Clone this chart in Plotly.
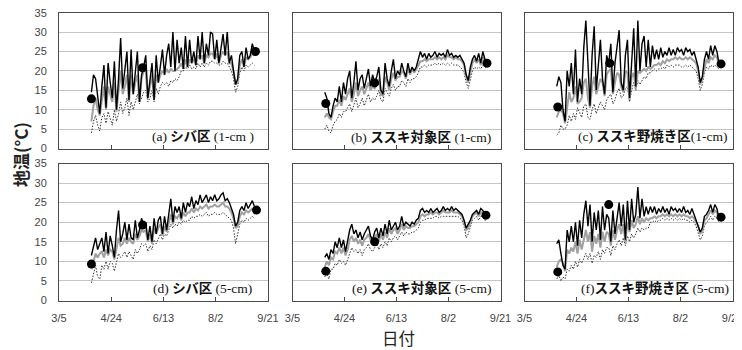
import plotly.graph_objects as go
import pandas as pd

# ---- data (every 2nd day from 4/5) ----
DATES = pd.date_range("2013-04-05", periods=79, freq="2D")

TICK_DATES = ["2013-03-05", "2013-04-24", "2013-06-13", "2013-08-02", "2013-09-21"]
TICK_LABELS = ["3/5", "4/24", "6/13", "8/2", "9/21"]
Y_TICKS = [0, 5, 10, 15, 20, 25, 30, 35]

# (a) シバ区 1-cm
A_BLACK = [14.5, 19, 18, 13, 9, 16, 21.5, 10.5, 22, 17,
           13, 22.5, 10, 18, 28.5, 15.5, 21, 25, 12.5, 25.5,
           14, 20, 25, 12, 19, 21, 24, 13, 17, 22,
           12.5, 24, 17, 21, 25.5, 19, 24, 27, 21, 30,
           20, 28, 22, 26, 20.5, 29, 21, 28, 22, 25,
           21.5, 29, 23, 30, 22, 27, 24, 30, 29.5, 23,
           28, 22, 26, 29.5, 24, 30, 22, 24, 20, 16.5,
           18, 24, 25, 21, 26, 23, 24, 27, 25]
A_GRAY = [7, 11, 13, 10, 8.5, 13, 16, 10, 16, 14,
          12, 17, 9.5, 15, 20, 14, 16, 19, 12, 19,
          14, 17, 19, 12, 18, 20, 20, 13, 16, 19,
          12.5, 19, 17, 19, 20, 19, 20.5, 19.5, 20.5, 20,
          20, 20.5, 21, 22, 20.5, 23, 21, 23, 22, 23,
          21.5, 24, 23, 24, 22, 24, 23.5, 24.5, 24.5, 23,
          24.5, 22, 24, 25, 24, 25, 22, 22, 20, 16.5,
          17, 21.5, 23, 21, 23.5, 23, 23.5, 24.5, 24]
A_DOT = [4, 7, 8.5, 6, 4.5, 8, 9, 6.5, 9.5, 8,
         6, 10, 7, 9, 12, 9, 10.5, 13, 8.5, 12,
         10, 12, 14, 11.5, 13, 14.5, 15, 12, 13, 15,
         12, 15.5, 14, 16, 17, 16.5, 17, 16, 17.5, 17,
         18, 17.5, 18.5, 20, 20, 21, 20.5, 21.5, 20.5, 21,
         20.5, 22, 21, 22, 21, 22, 21.5, 22.5, 22.5, 22,
         22, 21.5, 21.5, 22.5, 22, 22, 21, 20, 18, 14.5,
         16, 19.5, 21, 20, 21.5, 21, 21.5, 22, 21.5]
A_PT_DATES = ["2013-04-05", "2013-05-24", "2013-09-09"]
A_PT_VALS = [12.8, 20.8, 25.0]

# (b) ススキ対象区 1-cm
B_BLACK = [14.5, 13, 9, 8, 11, 13, 12, 16, 12, 17,
           14, 18, 20, 13, 17, 22.5, 15, 18, 19, 15.5,
           18, 20.5, 16, 19, 17, 18.5, 21, 15, 14, 22,
           18, 16, 20, 23, 18, 20, 19, 22, 20, 18.5,
           22, 19.5, 21, 20, 21, 23, 25, 23.5, 24.5, 23,
           24.5, 23.5, 24, 25, 23.5, 24.5, 24, 24.5, 23.5, 25.5,
           24, 24.5, 23.5, 24, 23.5, 24, 23, 22, 19, 17.5,
           21, 23, 24, 22.5, 24.5, 22, 25, 23, 22]
B_GRAY = [8, 9, 8, 7.5, 9.5, 11, 11, 12.5, 11, 13.5,
          12.5, 14, 15.5, 12, 14, 17, 13.5, 15, 16, 14,
          15.5, 17, 15, 16, 15.5, 16.5, 18, 14, 13.5, 18.5,
          17, 15, 18, 19.5, 17.5, 18.5, 18.5, 20, 19.5, 18,
          20.5, 19, 20.5, 19.5, 20.5, 21.5, 22.5, 22.5, 23, 22.5,
          23, 23, 23, 23.5, 23, 23.5, 23, 23.5, 23, 24,
          23.5, 23.5, 23, 23.5, 23, 23, 22.5, 21.5, 18.5, 17,
          20, 22, 23, 22, 23, 21.5, 23.5, 22.5, 21.5]
B_DOT = [5, 6, 4.5, 4, 6, 7, 7.5, 9, 8, 9.5,
         9.5, 10.5, 11.5, 9.5, 11, 13, 10.5, 11.5, 13, 11,
         12.5, 14, 12, 13, 12.5, 13.5, 15, 12.5, 12, 15.5,
         14.5, 13.5, 15.5, 16.5, 15, 16, 16, 17.5, 17, 16,
         18, 17, 18, 18, 18.5, 19.5, 21, 21, 21.5, 21,
         21.5, 21.5, 21.5, 22, 21.5, 22, 21.5, 22, 21.5, 22,
         21.5, 22, 21.5, 21.5, 21.5, 21, 20.5, 19.5, 17, 15.5,
         18, 20, 21, 20.5, 21, 20.5, 21.5, 21, 20.5]
B_PT_DATES = ["2013-04-06", "2013-05-23", "2013-09-08"]
B_PT_VALS = [11.6, 16.9, 22.0]

# (c) ススキ野焼き区 1-cm
C_BLACK = [16, 18.5, 17, 10, 7, 20, 16, 22, 14, 25.5,
           12, 18, 14, 26, 33, 20, 11, 24, 31.5, 15,
           22, 28, 18, 14, 24, 22, 27, 14.5, 22, 26,
           30.5, 17, 15, 24, 28, 13, 22, 31, 16, 33,
           20, 27, 29, 21, 28, 21, 26.5, 23, 25.5, 23,
           26, 23.5, 25, 24, 26, 24, 25.5, 24, 26, 25,
           25.5, 24, 26, 25, 25.5, 24, 25, 23, 21, 17,
           18.5, 23, 25, 23, 26.5, 24, 26.5, 25, 22]
C_GRAY = [8, 9.5, 10, 9, 6.5, 11, 14.5, 12, 13, 16,
          11.5, 12, 13, 17, 18, 13, 10.5, 16, 18.5, 14,
          16, 18, 17, 13.5, 19, 20, 20.5, 14, 17, 19.5,
          19, 16, 14.5, 20, 19.5, 12.5, 18.5, 19.5, 15.5, 20,
          19.5, 20, 20.5, 20, 21, 20.5, 21, 21.5, 21.5, 22,
          21.5, 22.5, 22, 23, 22.5, 23, 23, 23.5, 23, 23.5,
          23, 23, 23.5, 23, 23.5, 23, 22.5, 22, 20, 16.5,
          18, 21, 23, 22, 23.5, 23, 24, 23.5, 21.5]
C_DOT = [3.5, 4, 6, 5, 5, 6, 8.5, 7, 9, 7.5,
         10.5, 9, 8, 11, 11.5, 8, 7.5, 10, 11.5, 9,
         10.5, 12, 11, 10, 12.5, 13.5, 14, 11.5, 12.5, 14.5,
         15.5, 13, 13.5, 15.5, 16, 12, 15, 17, 15, 17.5,
         16.5, 17.5, 18.5, 18, 19.5, 19.5, 20, 20.5, 20, 20.5,
         20.5, 21, 20.5, 21.5, 21, 21.5, 21, 21.5, 21.5, 21.5,
         21, 21, 21.5, 21, 21.5, 21, 20.5, 20, 18, 15,
         16.5, 19.5, 21, 20.5, 21.5, 21, 21.5, 21, 20.5]
C_PT_DATES = ["2013-04-06", "2013-05-26", "2013-09-10"]
C_PT_VALS = [10.7, 22.0, 21.8]

# (d) シバ区 5-cm
D_BLACK = [11.5, 14, 16, 13, 14.5, 16, 12.5, 17.5, 12, 16.5,
           14, 11, 18, 23, 15, 17, 20, 15.5, 19.5, 16,
           15.5, 20.5, 16, 18, 21, 19, 20, 15.5, 19, 15,
           21, 17, 20.5, 21.5, 17, 21.5, 18, 22, 26, 20,
           24, 22.5, 24, 21, 25, 22.5, 25, 24, 26.5, 23.5,
           25.5, 24.5, 27, 25, 26, 27, 25, 26.5, 25.5, 27,
           25.5, 26, 27, 27.5, 25.5, 26, 25, 23.5, 22, 19,
           20, 23, 24, 23, 25, 23.5, 24.5, 25.5, 24]
D_GRAY = [8, 10, 12, 11, 12, 12.5, 11, 13, 11.5, 13,
          12.5, 10.5, 13.5, 16, 14, 14.5, 16, 14.5, 16, 15,
          14.5, 17, 15.5, 16.5, 18, 17.5, 18, 15, 17, 14.5,
          18.5, 17, 18.5, 19.5, 16.5, 19, 17.5, 20, 22, 19.5,
          21.5, 21, 22, 20.5, 22.5, 21.5, 22.5, 22.5, 23.5, 22.5,
          23.5, 23, 24, 23.5, 24, 24.5, 23.5, 24, 24, 24.5,
          24, 24, 24.5, 25, 24, 24, 23.5, 22.5, 21, 18.5,
          19, 21.5, 22.5, 22, 23, 22.5, 23, 23.5, 23]
D_DOT = [4.5, 7, 9, 6, 5.5, 9, 8, 10, 8, 10,
         9.5, 7.5, 10, 12, 11, 11.5, 12.5, 11, 12.5, 11.5,
         10.5, 13, 12, 13, 14.5, 14, 14.5, 12.5, 14, 13,
         15.5, 14.5, 16, 17, 15.5, 17, 16.5, 18, 19.5, 18.5,
         19.5, 19, 20, 19.5, 20.5, 20, 20.5, 20.5, 21.5, 21,
         21.5, 21.5, 22, 21.5, 22, 22.5, 21.5, 22, 22, 22.5,
         22, 22, 22, 22.5, 22, 21.5, 21, 20.5, 18.5, 14.5,
         17, 19.5, 20.5, 20, 21, 20.5, 21, 21.5, 21]
D_PT_DATES = ["2013-04-05", "2013-05-24", "2013-09-10"]
D_PT_VALS = [9.3, 19.3, 23.1]

# (e) ススキ対象区 5-cm
E_BLACK = [11, 12, 10.5, 13, 12, 15, 13.5, 16, 13.5, 15.5,
           12.5, 15, 18, 19.5, 17, 18, 16, 17.5, 15.5, 17,
           18, 19, 16.5, 15.5, 17.5, 18.5, 16, 18.5, 16.5, 19.5,
           17, 20.5, 18, 19, 20, 18, 19, 21.5, 19, 20,
           19.5, 19, 20, 19.5, 20.5, 21, 23, 23.5, 22.5, 23,
           22.5, 23.5, 22.5, 23, 23.5, 22.5, 23, 24, 23, 23.5,
           23, 24, 23, 23.5, 23, 22.5, 22, 20.5, 18.5, 19.5,
           20.5, 22, 22.5, 23, 22, 23.5, 23, 22, 22]
E_GRAY = [8.5, 10, 9, 11, 10.5, 12.5, 12, 13.5, 12, 13.5,
          11.5, 13, 15.5, 16.5, 15, 16, 14.5, 15.5, 14, 15.5,
          16, 17, 15.5, 14.5, 16, 17, 15, 17, 15.5, 17.5,
          16, 18.5, 17, 18, 18.5, 17, 18, 19.5, 18, 19,
          18.5, 18.5, 19, 19, 19.5, 20, 21.5, 22, 21.5, 22,
          22, 22.5, 22, 22.5, 22.5, 22, 22.5, 23, 22.5, 22.5,
          22.5, 23, 22.5, 22.5, 22.5, 22, 21.5, 20, 18, 18.5,
          20, 21.5, 22, 22.5, 21.5, 22.5, 22.5, 21.5, 21.5]
E_DOT = [6, 7, 5.5, 8, 8, 9.5, 9, 10.5, 9.5, 10,
         9, 10.5, 12, 13.5, 12.5, 13, 12, 13, 11.5, 13,
         13.5, 14.5, 13, 12.5, 13.5, 14.5, 13, 14.5, 13.5, 15,
         14, 16, 15, 16, 16.5, 15.5, 16.5, 17.5, 16.5, 17.5,
         17, 17, 17.5, 17.5, 18, 18.5, 20, 20.5, 20.5, 21,
         21, 21, 21, 21.5, 21.5, 21, 21.5, 21.5, 21.5, 21.5,
         21.5, 21.5, 21.5, 21.5, 21.5, 21, 20.5, 19, 16, 17,
         19, 20.5, 21, 21.5, 20.5, 21.5, 21.5, 20.5, 20.5]
E_PT_DATES = ["2013-04-06", "2013-05-23", "2013-09-07"]
E_PT_VALS = [7.5, 15.0, 21.8]

# (f) ススキ野焼き区 5-cm
F_BLACK = [14.5, 15.5, 12, 9, 8, 18, 15, 19, 15, 20,
           14, 20.5, 16, 22, 25.5, 19, 24.5, 15, 22.5, 18,
           23, 15.5, 24, 18, 22, 21, 15, 23, 17, 21,
           25, 19, 24.5, 15.5, 25.5, 18, 26, 20, 22, 29,
           21, 26, 21.5, 24, 22, 24, 22.5, 24, 22, 23.5,
           22.5, 24, 22.5, 23.5, 22, 24, 23, 23.5, 22.5, 23.5,
           22.5, 24, 22.5, 23, 22, 23.5, 22, 21, 19.5, 17.5,
           18.5, 21.5, 22, 23, 24.5, 22.5, 24.5, 23.5, 21]
F_GRAY = [8.5, 10, 10.5, 9.5, 7.5, 13, 12, 13.5, 12.5, 15,
          12, 15.5, 13, 16, 18, 15, 17.5, 12.5, 16.5, 14.5,
          17, 13.5, 17.5, 15, 17.5, 17, 14, 18, 15.5, 18,
          19.5, 17, 19.5, 15, 20, 17.5, 20.5, 18.5, 19.5, 21.5,
          19.5, 21, 20, 21, 20.5, 21, 21, 21.5, 21, 21.5,
          21.5, 22, 21.5, 22, 21.5, 22, 21.5, 22, 21.5, 22,
          21.5, 22, 21.5, 21.5, 21, 21.5, 21, 20, 19, 17,
          18, 20.5, 21, 22, 23, 22, 23, 22.5, 20.5]
F_DOT = [5.5, 6.5, 5, 6, 5.5, 8, 7.5, 9, 8, 10,
         8.5, 10.5, 9.5, 11, 12, 10.5, 12, 9.5, 11.5, 11,
         12.5, 10.5, 13, 12, 13.5, 13.5, 11.5, 14, 13, 14.5,
         15.5, 14, 16, 14, 16.5, 15, 17, 16, 17, 18.5,
         17.5, 18.5, 18, 18.5, 18.5, 20, 20, 20.5, 20, 20.5,
         20.5, 21, 20.5, 21, 20.5, 21, 20.5, 21, 20.5, 21,
         20.5, 21, 20.5, 20.5, 20, 20.5, 20, 19, 17.5, 15.5,
         16.5, 19, 20, 20.5, 21.5, 20.5, 21.5, 21, 20]
F_PT_DATES = ["2013-04-06", "2013-05-25", "2013-09-10"]
F_PT_VALS = [7.3, 24.5, 21.3]

LABELS = ["(a) <b>シバ区</b> (1-cm )", "(b) <b>ススキ対象区</b> (1-cm)",
          "(c) <b>ススキ野焼き区</b>(1-cm)", "(d) <b>シバ区</b> (5-cm)",
          "(e) <b>ススキ対象区</b> (5-cm)", "(f)<b>ススキ野焼き区</b> (5-cm)"]

PANELS = [
    (A_BLACK, A_GRAY, A_DOT, A_PT_DATES, A_PT_VALS),
    (B_BLACK, B_GRAY, B_DOT, B_PT_DATES, B_PT_VALS),
    (C_BLACK, C_GRAY, C_DOT, C_PT_DATES, C_PT_VALS),
    (D_BLACK, D_GRAY, D_DOT, D_PT_DATES, D_PT_VALS),
    (E_BLACK, E_GRAY, E_DOT, E_PT_DATES, E_PT_VALS),
    (F_BLACK, F_GRAY, F_DOT, F_PT_DATES, F_PT_VALS),
]
for p in PANELS:
    for s in p[:3]:
        assert len(s) == len(DATES), len(s)

# ---- layout geometry ----
# page body has an 8px margin, so the figure is drawn 8px right/down of the window corner
OFF = 8
W, H = 742 - OFF, 350 - OFF
COLS = [(59, 268), (292.5, 500.5), (524.5, 732.5)]   # window pixels
ROWS = [(12.7, 148.5), (163.5, 300.5)]               # window pixels
LABEL_X = [0.943, 0.964, 0.988, 0.933, 0.964, 0.995]


def px(xw):
    return (xw - OFF) / W


def py(yw):
    return 1 - (yw - OFF) / H


TICK_FONT = dict(family="Liberation Sans, Arial, sans-serif", size=11, color="#444444")
LABEL_FONT = dict(family="Liberation Serif, Noto Sans CJK JP, serif", size=13.5, color="#111111")

fig = go.Figure()
layout = dict(width=W, height=H, margin=dict(l=0, r=0, t=0, b=0, autoexpand=False),
              paper_bgcolor="white", plot_bgcolor="white", showlegend=False)
annotations = []

for i, (blk, gry, dot, pd_, pv) in enumerate(PANELS):
    n = i + 1
    r, c = divmod(i, 3)
    xs = "x" if n == 1 else f"x{n}"
    ys = "y" if n == 1 else f"y{n}"
    fig.add_trace(go.Scatter(x=DATES, y=dot, mode="lines", xaxis=xs, yaxis=ys,
                             line=dict(color="#333333", width=1, dash="1.5px,1.5px")))
    fig.add_trace(go.Scatter(x=DATES, y=gry, mode="lines", xaxis=xs, yaxis=ys,
                             line=dict(color="#a0a0a0", width=2)))
    fig.add_trace(go.Scatter(x=DATES, y=blk, mode="lines", xaxis=xs, yaxis=ys,
                             line=dict(color="#000000", width=1.4)))
    fig.add_trace(go.Scatter(x=pd_, y=pv, mode="markers", xaxis=xs, yaxis=ys,
                             marker=dict(color="#000000", size=9)))
    x0, x1 = COLS[c]
    y0, y1 = ROWS[r]
    layout["xaxis" if n == 1 else f"xaxis{n}"] = dict(
        domain=[px(x0), px(x1)], anchor=ys, type="date", automargin=False,
        range=[TICK_DATES[0], TICK_DATES[-1]], ticklabeloverflow="allow",
        tickvals=TICK_DATES, ticktext=TICK_LABELS, ticks="inside", ticklen=4,
        tickcolor="#444444", showgrid=False, zeroline=False,
        showline=True, mirror=True, linecolor="#4a4a4a", linewidth=1,
        showticklabels=(r == 1), tickfont=TICK_FONT, ticklabelstandoff=7)
    layout["yaxis" if n == 1 else f"yaxis{n}"] = dict(
        domain=[py(y1), py(y0)], anchor=xs, range=[0, 35], automargin=False,
        ticklabeloverflow="allow",
        tickvals=Y_TICKS, showgrid=True, gridcolor="#c4c4c4", gridwidth=1,
        zeroline=False, showline=True, mirror=True, linecolor="#4a4a4a", linewidth=1,
        ticks="", showticklabels=(c == 0), tickfont=TICK_FONT, ticklabelstandoff=9)
    annotations.append(dict(text=LABELS[i], xref=f"{xs} domain", yref=f"{ys} domain",
                            x=LABEL_X[i], y=0.088, xanchor="right", yanchor="middle",
                            showarrow=False, font=LABEL_FONT))

annotations.append(dict(text="<b>地温(°C)</b>", xref="paper", yref="paper",
                        x=px(20), y=py(155), xanchor="center", yanchor="middle",
                        textangle=-90, showarrow=False,
                        font=dict(family="Noto Sans CJK JP, sans-serif", size=17, color="#222222")))
annotations.append(dict(text="日付", xref="paper", yref="paper",
                        x=px(398), y=py(338), xanchor="center", yanchor="middle",
                        showarrow=False,
                        font=dict(family="Noto Sans CJK JP, sans-serif", size=16.5, color="#222222")))
layout["annotations"] = annotations
fig.update_layout(**layout)
fig.write_html("out.html")
